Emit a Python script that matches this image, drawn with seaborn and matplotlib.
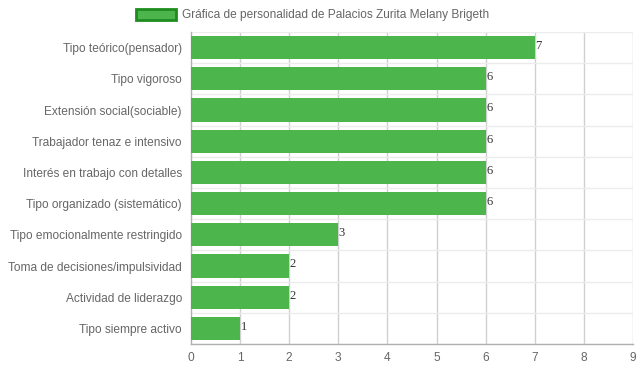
import matplotlib
matplotlib.use("Agg")
import matplotlib.pyplot as plt
import pandas as pd
import seaborn as sns
from matplotlib.patches import Patch

CATEGORIES = [
    "Tipo teórico(pensador)",
    "Tipo vigoroso",
    "Extensión social(sociable)",
    "Trabajador tenaz e intensivo",
    "Interés en trabajo con detalles",
    "Tipo organizado (sistemático)",
    "Tipo emocionalmente restringido",
    "Toma de decisiones/impulsividad",
    "Actividad de liderazgo",
    "Tipo siempre activo",
]
VALUES = [7, 6, 6, 6, 6, 6, 3, 2, 2, 1]
SERIES_LABEL = "Gráfica de personalidad de Palacios Zurita Melany Brigeth"

BAR_COLOR = "#4cb54c"
EDGE_COLOR = "#1e8c1e"
TEXT_COLOR = "#666666"


def main():
    data = pd.DataFrame({"categoria": CATEGORIES, "valor": VALUES})

    sns.set_theme(style="white")
    plt.rcParams["font.family"] = ["Liberation Sans", "DejaVu Sans"]

    fig = plt.figure(figsize=(6.39, 3.72), dpi=100)
    ax = fig.add_axes([191 / 639, 1 - 344 / 372, 442 / 639, 312 / 372])

    sns.barplot(data=data, x="valor", y="categoria", orient="h",
                color=BAR_COLOR, saturation=1, width=0.74, linewidth=0,
                ax=ax, zorder=3)

    ax.set_xlim(0, 9)
    ax.set_xticks(range(0, 10))
    ax.set_xlabel("")
    ax.set_ylabel("")

    # grid: vertical darker, horizontal lines between categories light
    for x in range(1, 10):
        ax.axvline(x, color="#d0d0d0", lw=1, zorder=1)
    for i in range(len(CATEGORIES) + 1):
        ax.axhline(i - 0.5, color="#ececec", lw=1, zorder=1)

    for s in ["top", "right"]:
        ax.spines[s].set_visible(False)
    for s in ["left", "bottom"]:
        ax.spines[s].set_color("#b0b0b0")
        ax.spines[s].set_linewidth(1)

    ax.tick_params(axis="both", colors=TEXT_COLOR, labelsize=8.6, length=0, pad=6.5)
    ax.tick_params(axis="x", pad=6)

    for i, v in enumerate(VALUES):
        ax.text(v + 0.01, i - 0.05, str(v), fontsize=9, family="Liberation Serif",
                color="#333333", va="center", ha="left", zorder=4)

    handle = Patch(facecolor=BAR_COLOR, edgecolor=EDGE_COLOR, linewidth=2)
    fig.legend([handle], [SERIES_LABEL], loc="upper center",
               bbox_to_anchor=(0.489, 1.005), frameon=False, fontsize=8.6,
               labelcolor=TEXT_COLOR, handlelength=3.4, handleheight=1.0,
               handletextpad=0.5)

    fig.savefig("out.png", dpi=100)
    plt.close(fig)


if __name__ == "__main__":
    main()
